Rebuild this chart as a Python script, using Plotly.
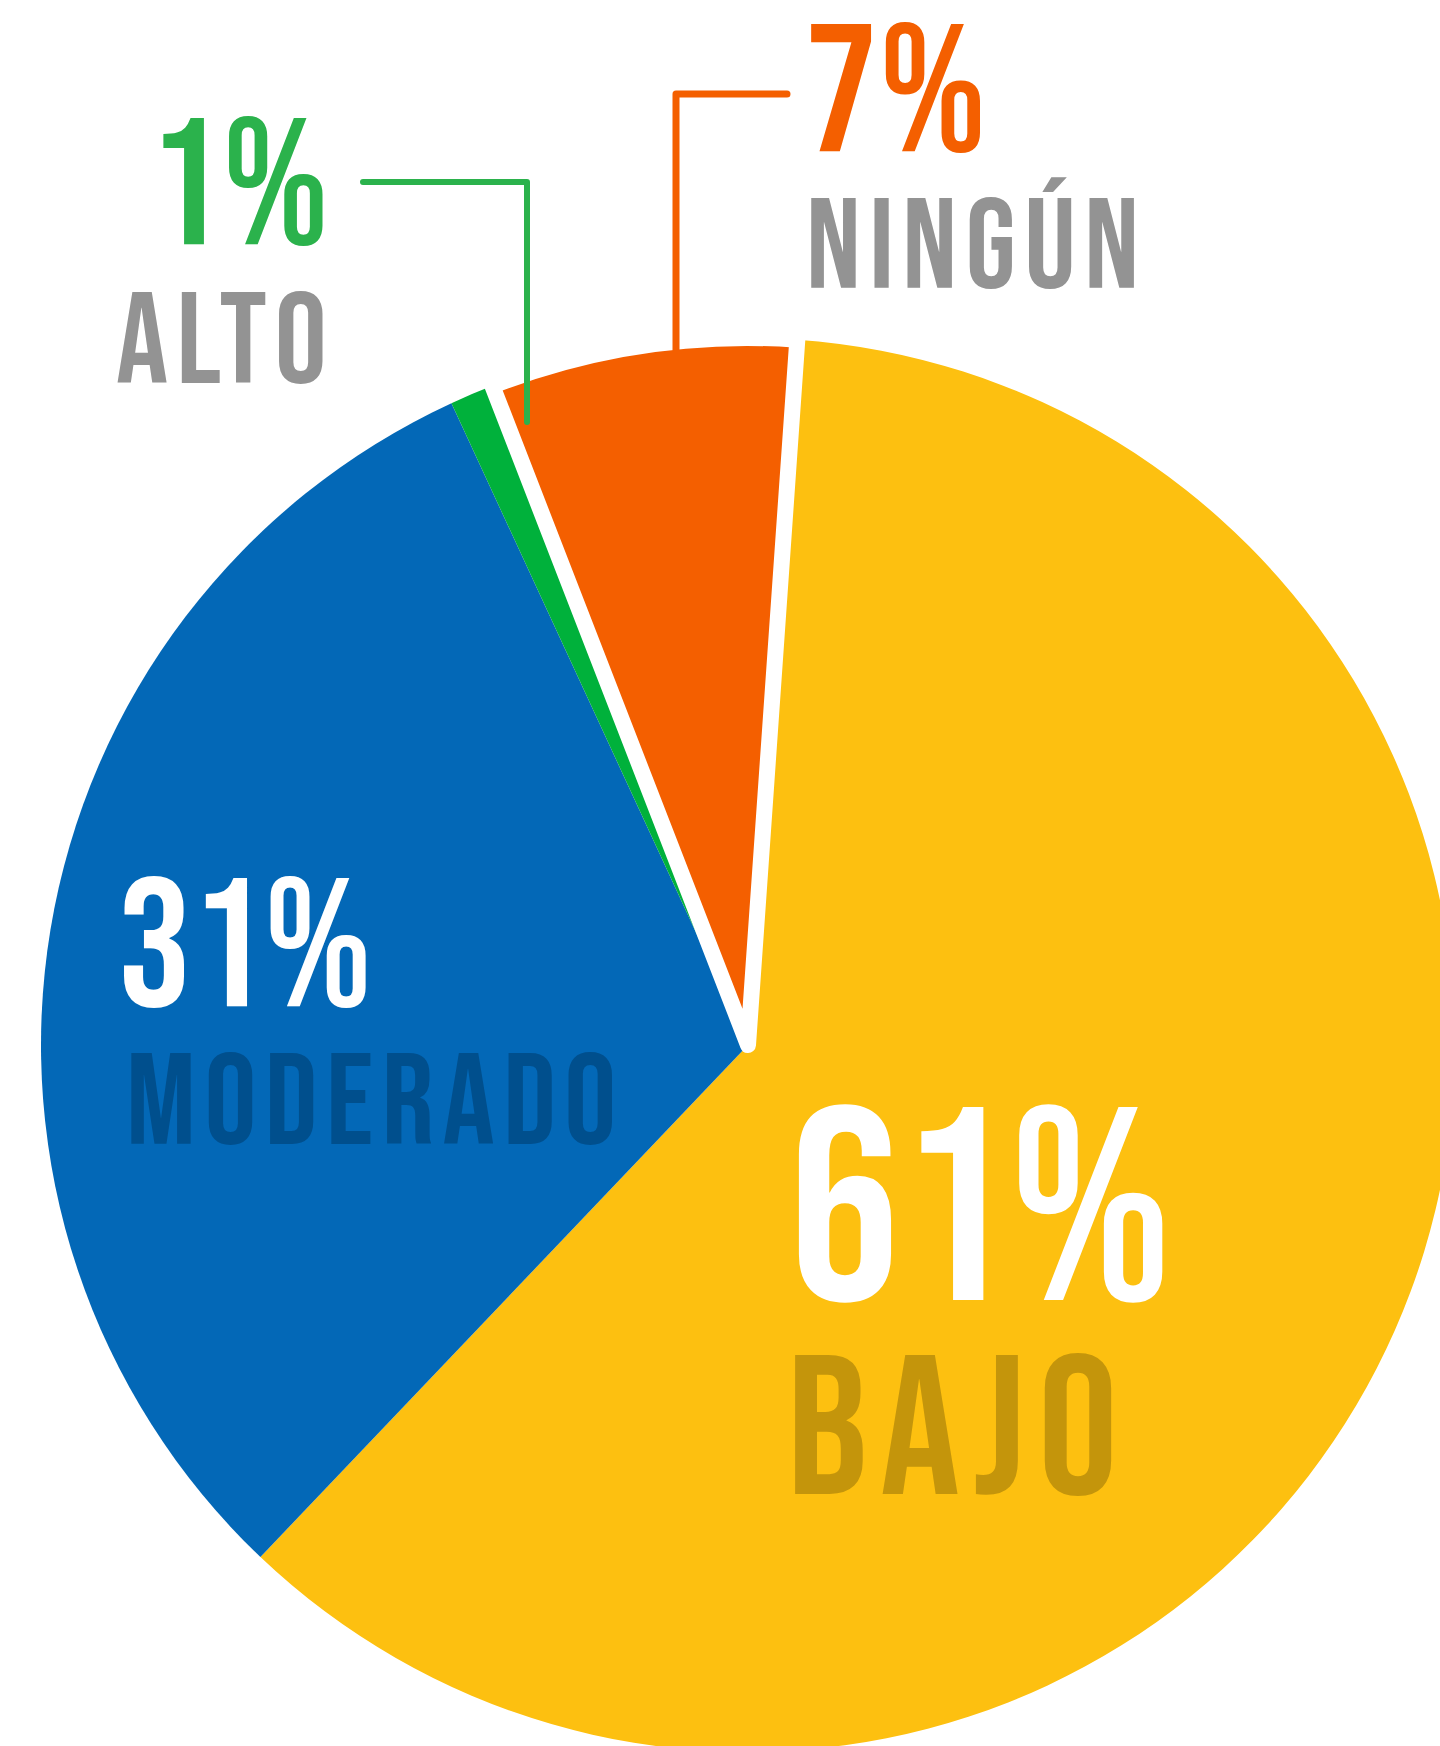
import plotly.graph_objects as go

# ---- data ----
categories = ["BAJO", "MODERADO", "ALTO", "NINGÚN"]
values = [61, 31, 1, 7]
pct_labels = ["61%", "31%", "1%", "7%"]
slice_colors = ["#FDC010", "#0368B7", "#00B13B", "#F45F00"]
outline_widths = [0, 0, 0, 16]

# ---- page geometry (figure slightly larger than window; overflow hidden) ----
W, H = 1460, 1760
def px(x):
    return x / W
def py(y):
    return 1 - y / H

cx, cy, r = 748, 1045, 707

fig = go.Figure(go.Pie(
    labels=categories, values=values, sort=False, direction="clockwise", rotation=4,
    marker=dict(colors=slice_colors, line=dict(color="white", width=outline_widths)),
    textinfo="none", hoverinfo="skip", showlegend=False,
    domain=dict(x=[px(cx - r), px(cx + r)], y=[py(cy + r), py(cy - r)]),
))

BEBAS = "Bebas Neue, Oswald, sans-serif"

def label(text, x_left, y_capmid, cap, color):
    f = cap / 0.7
    fig.add_annotation(text=text, x=px(x_left - 3), y=py(y_capmid + 0.05 * f),
                       xref="paper", yref="paper", xanchor="left", yanchor="middle",
                       align="left", showarrow=False,
                       font=dict(family=BEBAS, size=f, color=color, weight=400))

# percentages and category names
label(pct_labels[2], 150, 181, 126, "#2BB24C")
label(categories[2], 117, 337.5, 91, "#939393")
label(pct_labels[3], 806, 87, 127, "#F45F00")
label(categories[3], 807, 243, 90, "#939393")
label(pct_labels[1], 119, 942, 128, "white")
label(categories[1], 127, 1098.5, 91, "#004F8D")
label(pct_labels[0], 790, 1204, 193, "white")
label(categories[0], 788, 1424.5, 139, "#C4950B")

def elbow(points, color, width):
    d = "M " + " L ".join(f"{px(x)},{py(y)}" for x, y in points)
    fig.add_shape(type="path", path=d, xref="paper", yref="paper",
                  line=dict(color=color, width=width), layer="above")

elbow([(363, 182), (527, 182), (527, 422)], "#2BB24C", 6)
elbow([(787, 94), (676, 94), (676, 350)], "#F45F00", 7)

fig.update_layout(width=W, height=H, margin=dict(l=0, r=0, t=0, b=0),
                  paper_bgcolor="white", plot_bgcolor="white")

spacing = {1: "0.065em", 3: "0.065em", 5: "0.065em", 7: "0.065em",
           0: "0.01em", 2: "0.01em", 4: "0.0em", 6: "0.0em"}
js_spacing = "{" + ",".join(f'"{k}":"{v}"' for k, v in spacing.items()) + "}"
post = """
document.documentElement.style.overflow='hidden';
document.body.style.margin='0';
document.body.style.overflow='hidden';
var gd = document.getElementById('{plot_id}');
var sp = %s;
gd.querySelectorAll('.annotation').forEach(function(g){
  var i = g.getAttribute('data-index');
  var t = g.querySelector('text');
  if (t && sp[i]) { t.style.letterSpacing = sp[i]; }
});
gd.querySelectorAll('.shapelayer path').forEach(function(p){
  p.style.strokeLinecap='round'; p.style.strokeLinejoin='round';
});
gd.querySelectorAll('.slice path').forEach(function(p){
  p.style.strokeLinejoin='round';
});
""" % js_spacing

fig.write_html("out.html", post_script=post, config={"displayModeBar": False})
